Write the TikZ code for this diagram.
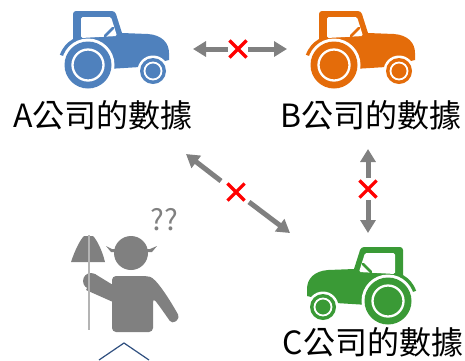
\documentclass[tikz,border=0pt]{standalone}
\usepackage{fontspec}
\setmainfont{Noto Sans CJK TC}
\usetikzlibrary{arrows.meta,shapes.misc}

\definecolor{tblue}{HTML}{4F81BD}
\definecolor{torange}{HTML}{E46C0A}
\definecolor{tgreen}{HTML}{3A9A36}
\definecolor{arrowgray}{HTML}{808080}
\definecolor{figgray}{HTML}{808080}
\definecolor{polegray}{HTML}{B4B4B4}
\definecolor{lineblue}{HTML}{2F4F7F}

\tikzset{
  link/.style={draw=arrowgray, line width=5pt, -{Triangle[length=13pt,width=15pt]}},
  nolink/.style={draw=red, line width=3.2pt, cross out, minimum size=14pt, inner sep=0pt},
  datalabel/.style={font=\fontsize{32}{32}\selectfont, inner sep=0pt},
  % tractor facing right, origin at the centre of the rear wheel
  pics/tractor/.style={code={
    \fill[#1] (200:30) arc[start angle=200, end angle=240, radius=30]
      -- (-15,-48) [rounded corners=3pt] -- (-15,-54) -- (27,-54) [sharp corners] -- (34,-32)
      -- (60,-31) .. controls (74,-30) and (81,-22) .. (81,-12)
      -- (81,-5) -- (52,2) -- (20,4) -- (0,0) -- cycle;
    \fill[white] (0,0) circle[radius=26.5];
    \fill[white] (65,6) circle[radius=15.5];
    \fill[#1] (0,0) circle[radius=23.5];
    \draw[white, line width=2.3pt] (0,0) circle[radius=15.5];
    \fill[#1] (65,6) circle[radius=13];
    \draw[white, line width=1.8pt] (65,6) circle[radius=8.5];
    \fill[white, rounded corners=1.5pt] (-7,-48) -- (23,-48) -- (29,-29) -- (-7,-27) -- cycle;
    \draw[#1, line width=2.5pt, line cap=round] (17,-29) -- (25,-37);
  }}
}

\begin{document}
\begin{tikzpicture}[x=1pt, y=-1pt]
\useasboundingbox (0,0) rectangle (465,360);

% tractors
\pic at (88,65) {tractor=tblue};
\pic at (334,65) {tractor=torange};
\pic[xscale=-1] at (388,301) {tractor=tgreen};

% captions
\node[datalabel] (la) at (103,115.5) {A公司的數據};
\node[datalabel] (lb) at (371,115.5) {B公司的數據};
\node[datalabel] (lc) at (373,342) {C公司的數據};

% blocked exchanges
\node[nolink] (xab) at (238,49) {};
\node[nolink] (xac) at (236,192) {};
\node[nolink] (xbc) at (368,189) {};

\coordinate (ab-a) at (193,49);
\coordinate (ab-b) at (287,49);
\coordinate (ab-as) at (228,49);
\coordinate (ab-bs) at (248,49);
\draw[link] (ab-as) -- (ab-a);
\draw[link] (ab-bs) -- (ab-b);

\coordinate (ac-a) at (186,154);
\coordinate (ac-c) at (290,233);
\coordinate (ac-as) at (221,181);
\coordinate (ac-cs) at (249,202);
\draw[link] (ac-as) -- (ac-a);
\draw[link] (ac-cs) -- (ac-c);

\coordinate (bc-b) at (368,149);
\coordinate (bc-c) at (368,233);
\coordinate (bc-bs) at (368,178);
\coordinate (bc-cs) at (368,200);
\draw[link] (bc-bs) -- (bc-b);
\draw[link] (bc-cs) -- (bc-c);

% puzzled farmer
\fill[figgray] (131,253) circle[radius=17];
\fill[figgray] (106,246) -- (112,249) -- (150,249) -- (157,246) -- (152,252) -- (111,252) -- cycle;
\fill[figgray, rounded corners=4pt] (112,332) -- (112,276) -- (146,276)
  .. controls (156,278) and (170,300) .. (180,318) -- (172,324)
  .. controls (165,314) and (158,304) .. (153,298) -- (153,332) -- cycle;
\fill[figgray] (95,274) -- (113,285) -- (113,302) -- (86,290) -- cycle;
\fill[figgray] (91,281) circle[radius=8];
\fill[figgray] (71,262) .. controls (75,250) and (80,240) .. (84,236) -- (93,236)
  .. controls (97,240) and (102,250) .. (105,262) -- cycle;
\draw[polegray, line width=1.8pt] (89,235) -- (89,330);
\node[text=figgray, font=\fontsize{29}{29}\selectfont, inner sep=0pt] (q) at (164,220) {??};

% frame corner below
\coordinate (v1) at (99,360);
\coordinate (vtop) at (124,343);
\coordinate (v2) at (149,360);
\draw[lineblue, line width=1.2pt] (v1) -- (vtop) -- (v2);
\end{tikzpicture}
\end{document}
